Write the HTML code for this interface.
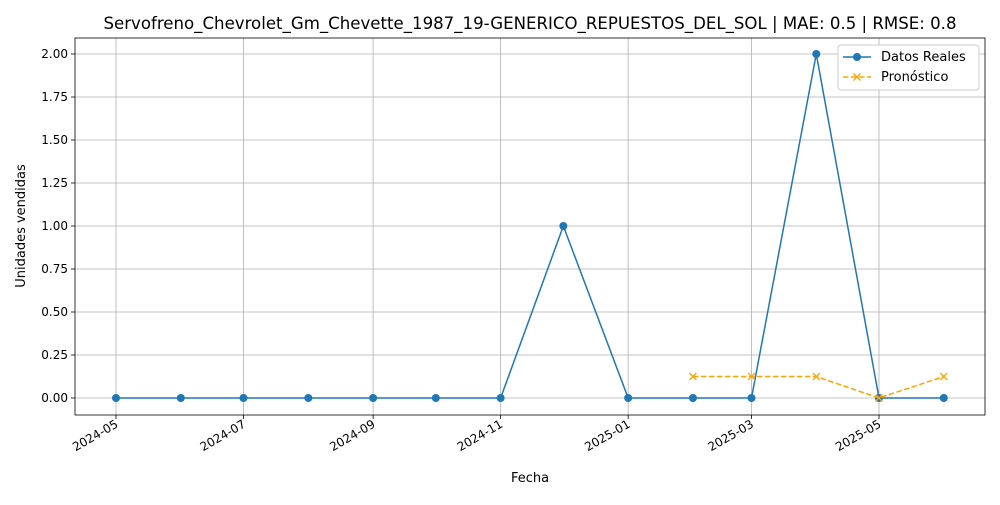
<!DOCTYPE html>
<html><head><meta charset="utf-8"><style>
body{margin:0;background:#fff;font-family:"Liberation Sans","DejaVu Sans",sans-serif;}
svg text{font-family:"DejaVu Sans","Liberation Sans",sans-serif;}
</style></head><body>
<svg id="c" width="1000" height="500"></svg>
<script>
const months=["2024-05","2024-06","2024-07","2024-08","2024-09","2024-10","2024-11","2024-12","2025-01","2025-02","2025-03","2025-04","2025-05","2025-06"];
const actual=[0,0,0,0,0,0,0,1,0,0,0,2,0,0];
const fcMonths=["2025-02","2025-03","2025-04","2025-05","2025-06"];
const forecast=[0.125,0.125,0.125,0,0.125];
const xTicks=["2024-05","2024-07","2024-09","2024-11","2025-01","2025-03","2025-05"];
const yTicks=[0,0.25,0.5,0.75,1,1.25,1.5,1.75,2];
const NS="http://www.w3.org/2000/svg";
const svg=document.getElementById('c');
const L=75,R=985,T=38,B=415;
const d0=Date.UTC(2024,4,1);
function day(m){const [y,mo]=m.split('-').map(Number);return (Date.UTC(y,mo-1,1)-d0)/864e5;}
function X(m){return 116+day(m)*2.0904;}
function Y(v){return 398-v*172;}
function el(t,a,txt){const e=document.createElementNS(NS,t);for(const k in a)e.setAttribute(k,a[k]);if(txt!=null)e.textContent=txt;svg.appendChild(e);return e;}
xTicks.forEach(m=>{const x=X(m);
 const g=el('line',{x1:x,x2:x,y1:T,y2:B,stroke:'#b0b0b0','stroke-width':0.8});
 
 el('line',{x1:x,x2:x,y1:B,y2:B+4,stroke:'#000','stroke-width':0.8});
 const t=el('text',{x:x+1,y:B+12,'font-size':12,'text-anchor':'end',transform:`rotate(-30 ${x+1} ${B+8})`},m);
 
});
yTicks.forEach(v=>{const y=Y(v);
 const g=el('line',{x1:L,x2:R,y1:y,y2:y,stroke:'#b0b0b0','stroke-width':0.8});
 
 el('line',{x1:L-4,x2:L,y1:y,y2:y,stroke:'#000','stroke-width':0.8});
 const t=el('text',{x:L-7,y:y+4,'font-size':12,'text-anchor':'end'},v.toFixed(2));
 
});
const fr=el('rect',{x:L,y:T,width:R-L,height:B-T,fill:'none',stroke:'#000','stroke-width':0.8});

const ap=el('polyline',{points:months.map((m,i)=>X(m)+','+Y(actual[i])).join(' '),fill:'none',stroke:'#1f77b4','stroke-width':1.5});

months.forEach((m,i)=>{const c=el('circle',{cx:X(m),cy:Y(actual[i]),r:4,fill:'#1f77b4'});
 });
const fp=el('polyline',{points:fcMonths.map((m,i)=>X(m)+','+Y(forecast[i])).join(' '),fill:'none',stroke:'#ffa500','stroke-width':1.5,'stroke-dasharray':'5.5,2.5'});

function cross(x,y,n){const p=el('path',{d:`M${x-3.5},${y-3.5}L${x+3.5},${y+3.5}M${x-3.5},${y+3.5}L${x+3.5},${y-3.5}`,stroke:'#ffa500','stroke-width':1.3});
 }
fcMonths.forEach((m,i)=>cross(X(m),Y(forecast[i]),'forecast-point'));
const tt=el('text',{x:530,y:29,'font-size':16.6,'text-anchor':'middle'},'Servofreno_Chevrolet_Gm_Chevette_1987_19-GENERICO_REPUESTOS_DEL_SOL | MAE: 0.5 | RMSE: 0.8');

const xt=el('text',{x:530,y:482,'font-size':13,'text-anchor':'middle'},'Fecha');

const yt=el('text',{x:25,y:226,'font-size':13,'text-anchor':'middle',transform:'rotate(-90 25 226)'},'Unidades vendidas');

const lg=el('rect',{x:838,y:45,width:141,height:45,fill:'#fff',stroke:'#ccc',rx:3});

const l1=el('line',{x1:843,x2:871,y1:57,y2:57,stroke:'#1f77b4','stroke-width':1.5});

el('circle',{cx:857,cy:57,r:4,fill:'#1f77b4'});
const t1=el('text',{x:881,y:61,'font-size':13},'Datos Reales');

const l2=el('line',{x1:843,x2:871,y1:77,y2:77,stroke:'#ffa500','stroke-width':1.5,'stroke-dasharray':'5.5,2.5'});

cross(857,77,'legend-forecast-marker');
const t2=el('text',{x:881,y:81,'font-size':13},'Pronóstico');

</script>
</body></html>
